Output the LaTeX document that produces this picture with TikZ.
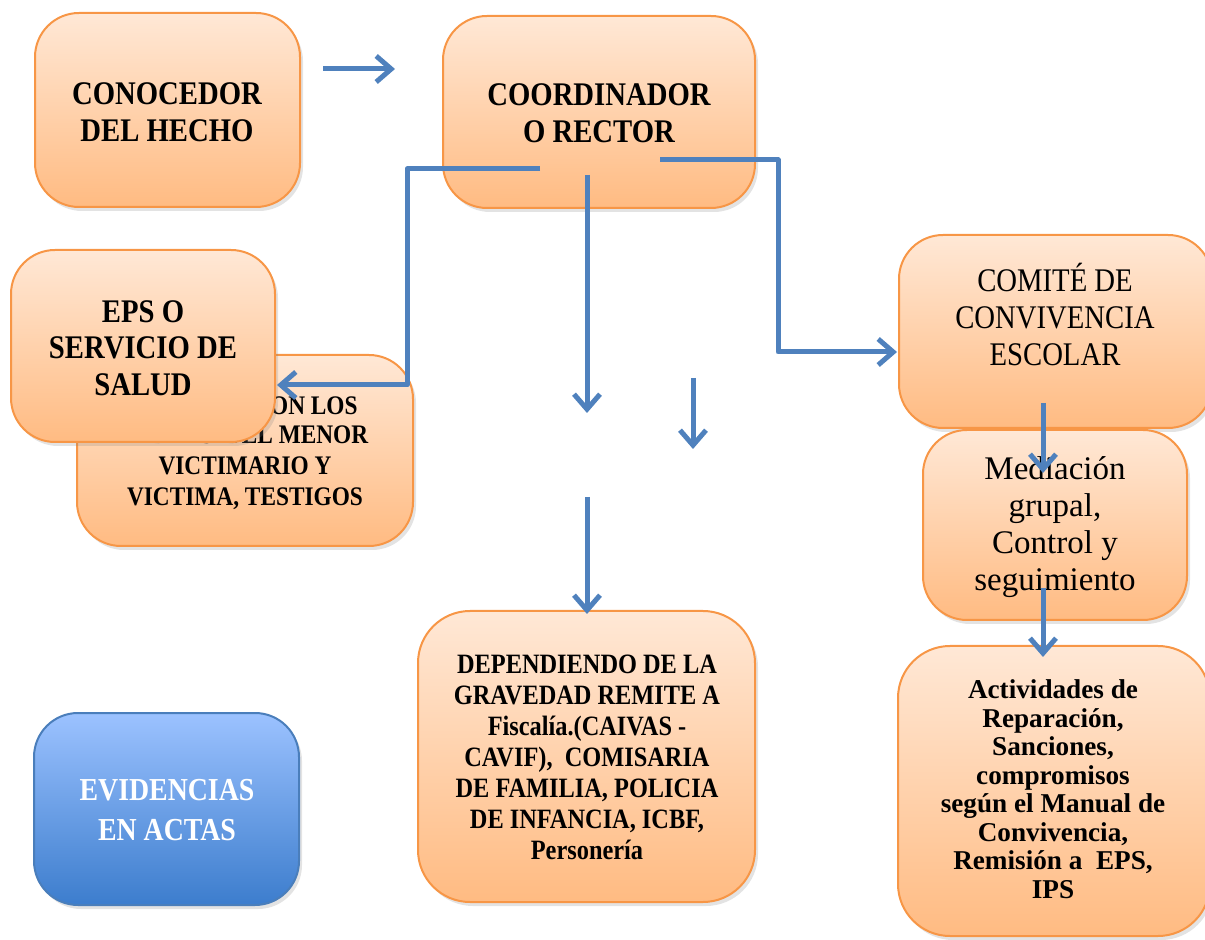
\documentclass[tikz,border=0pt]{standalone}
\usepackage{fontspec}
\setmainfont{Liberation Serif}[FakeStretch=0.87]
\newfontfamily\plainserif{Liberation Serif}
\usetikzlibrary{arrows.meta,shadows,fit}
\definecolor{obord}{RGB}{247,150,70}
\definecolor{otop}{RGB}{255,232,214}
\definecolor{obot}{RGB}{255,187,130}
\definecolor{btop}{RGB}{156,194,255}
\definecolor{bbot}{RGB}{60,125,205}
\definecolor{bbord}{RGB}{74,126,187}
\definecolor{arrc}{RGB}{79,129,189}
\begin{document}
\begin{tikzpicture}[x=0.5pt,y=-0.5pt,
  obox/.style={draw=obord, line width=1pt, rounded corners=22pt, top color=otop, bottom color=obot, inner sep=0pt,
    drop shadow={opacity=0.22,shadow xshift=1.5pt,shadow yshift=-2pt}},
  bbox/.style={obox, draw=bbord, top color=btop, bottom color=bbot},
  lbl/.style={align=center, inner sep=0pt},
  bigb/.style={lbl, font=\fontsize{16.5}{18.3}\selectfont\bfseries},
  bigr/.style={lbl, font=\fontsize{16.5}{18.5}\selectfont},
  midb/.style={lbl, font=\fontsize{14}{15.5}\selectfont\bfseries},
  conn/.style={draw=arrc, line width=2.5pt, line join=round, -{Straight Barb[length=7.5pt,width=13pt]}}]
\useasboundingbox (0,0) rectangle (1205,940);
\clip (0,0) rectangle (1205,940);

% boxes
\node[obox, fit={(35,13) (300,207)}] (con) {};
\node[bigb] (conT) at (167,112) {CONOCEDOR\\DEL HECHO};

\node[obox, fit={(443,16) (755,208)}] (coord) {};
\node[bigb] (coordT) at (599,113) {COORDINADOR\\O RECTOR};

\node[obox, fit={(77,355) (413,546)}] (pad) {};
\node[lbl, font=\fontsize{13.4}{15.5}\selectfont\bfseries, anchor=east] (padA) at (358,406) {CON LOS};
\node[lbl, font=\fontsize{13.4}{15.5}\selectfont\bfseries] (padT) at (245,468) {PADRES~ DEL MENOR\\VICTIMARIO Y\\VICTIMA, TESTIGOS};

\node[obox, fit={(11,250) (275,442)}] (eps) {};
\node[bigb] (epsT) at (143,348) {EPS O\\SERVICIO DE\\SALUD};

\node[obox, fit={(899,235) (1212,428)}] (com) {};
\node[bigr] (comT) at (1055,315) {COMITÉ DE\\CONVIVENCIA\\ESCOLAR};

\node[obox, fit={(923,430) (1187,620)}] (med) {};
\node[lbl, font=\plainserif\fontsize{16.5}{18.5}\selectfont] (medT) at (1055,527) {Mediación\\grupal,\\Control y\\seguimiento};

\node[obox, rounded corners=26pt, fit={(898,646) (1210,936)}] (act) {};
\node[lbl, font=\plainserif\fontsize{13.6}{14.25}\selectfont\bfseries] (actT) at (1053,789) {Actividades de\\Reparación,\\Sanciones,\\compromisos\\según el Manual de\\Convivencia,\\Remisión a~ EPS,\\IPS};

\node[obox, rounded corners=26pt, fit={(418,611) (755,902)}] (dep) {};
\node[midb] (depT) at (587,757) {DEPENDIENDO DE LA\\GRAVEDAD REMITE A\\Fiscalía.(CAIVAS -\\CAVIF),~ COMISARIA\\DE FAMILIA, POLICIA\\DE INFANCIA, ICBF,\\Personería};

\node[bbox, fit={(34,713) (299,905)}] (evi) {};
\node[lbl, text=white, font=\fontsize{16}{20}\selectfont\bfseries] (eviT) at (167,810) {EVIDENCIAS\\EN ACTAS};

% connector points
\coordinate (h1) at (323,69);
\coordinate (h2) at (395,69);
\coordinate (l0) at (540,169);
\coordinate (l1) at (407,169);
\coordinate (l2) at (277,385);
\coordinate (m0) at (587,175);
\coordinate (m1) at (587,413);
\coordinate (s0) at (693,378);
\coordinate (s1) at (693,449);
\coordinate (d0) at (587,497);
\coordinate (d1) at (587,614);
\coordinate (r0) at (660,160);
\coordinate (r1) at (778,160);
\coordinate (r2) at (897,352);
\coordinate (c0) at (1043,403);
\coordinate (c1) at (1043,473);
\coordinate (e0) at (1043,588);
\coordinate (e1) at (1043,657);

\draw[conn] (h1) -- (h2);
\draw[conn] (l0) -- (l1) |- (l2);
\draw[conn] (m0) -- (m1);
\draw[conn] (s0) -- (s1);
\draw[conn] (d0) -- (d1);
\draw[conn] (r0) -- (r1) |- (r2);
\draw[conn] (c0) -- (c1);
\draw[conn] (e0) -- (e1);
\end{tikzpicture}
\end{document}
